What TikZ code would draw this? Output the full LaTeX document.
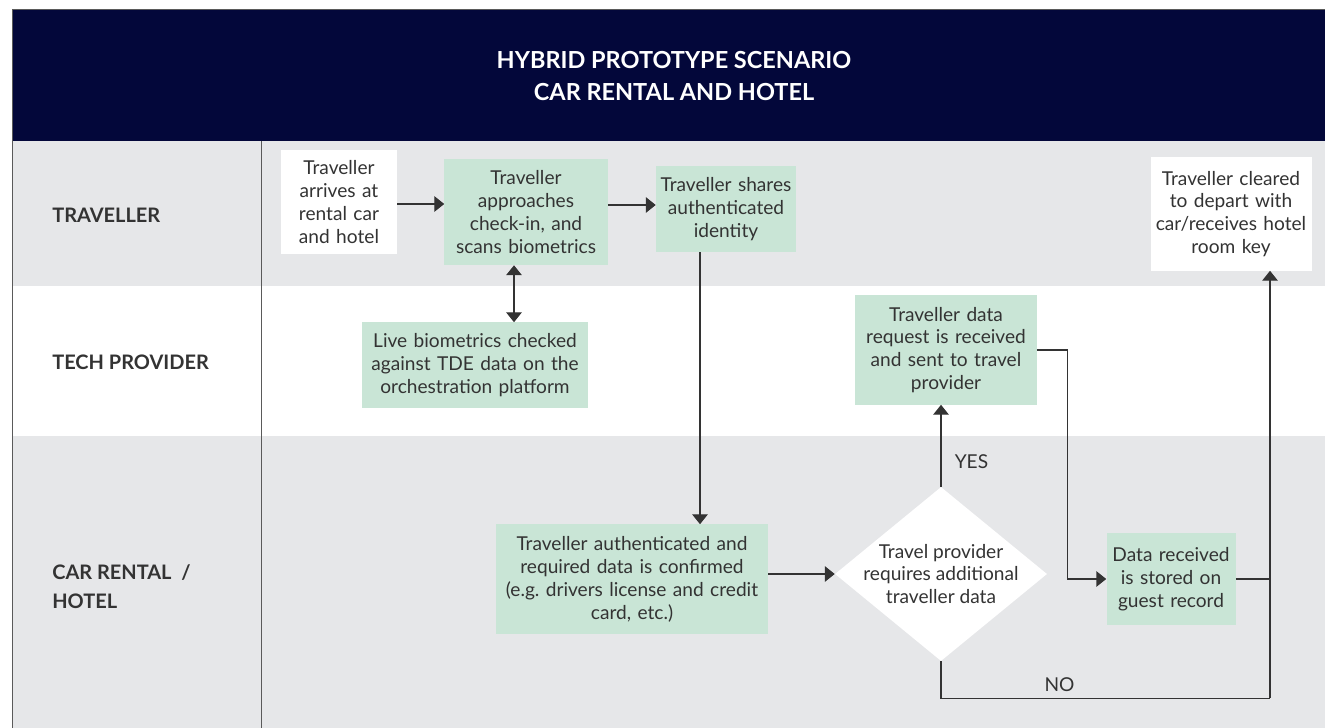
\documentclass[tikz,border=0pt]{standalone}
\usepackage{fontspec}
\setmainfont{Lato}
\usetikzlibrary{arrows.meta, shapes.geometric, calc}

\definecolor{navy}{RGB}{3,7,58}
\definecolor{lanegrey}{RGB}{230,231,233}
\definecolor{boxgreen}{RGB}{201,229,214}
\definecolor{ink}{RGB}{51,51,51}
\definecolor{rule}{RGB}{90,90,90}

\tikzset{
    stepbox/.style={inner sep=0pt, align=center},
    greenbox/.style={stepbox, fill=boxgreen},
    whitebox/.style={stepbox, fill=white},
    decision/.style={diamond, fill=white, inner sep=0pt, aspect=1.22, minimum width=5.3cm, minimum height=4.35cm},
    lanelabel/.style={anchor=west, inner sep=0pt, align=left, font=\fontsize{14.2}{20.5}\selectfont\bfseries},
    flow/.style={draw=ink, line width=0.9pt, -{Triangle[width=11pt,length=7pt]}},
    link/.style={draw=ink, line width=0.9pt}
}

\begin{document}
\begin{tikzpicture}[x=0.025cm, y=-0.025cm, font=\fontsize{13.6}{16.3}\selectfont, text=ink]
        \useasboundingbox (0,0) rectangle (1325,728);

        % lanes
        \fill[navy] (12,9) rectangle (1325,141);
        \fill[lanegrey] (12,141) rectangle (1325,286);
        \fill[lanegrey] (12,436) rectangle (1325,728);
        \draw[rule, line width=0.6pt] (1325,9) -- (12,9) -- (12,728);
        \draw[rule, line width=0.6pt] (261,141) -- (261,728);

        \node[align=center, text=white, font=\fontsize{16.7}{22.7}\selectfont\bfseries] (title) at (674,76) {HYBRID PROTOTYPE SCENARIO\\CAR RENTAL AND HOTEL};
        \node[lanelabel] (laneone) at (52,215) {TRAVELLER};
        \node[lanelabel] (lanetwo) at (52,362) {TECH PROVIDER};
        \node[lanelabel] (lanethree) at (52,587) {CAR RENTAL\ \ /\\HOTEL};

        % steps
        \node[whitebox, minimum width=2.9cm, minimum height=2.6cm, text width=2.9cm] (arrive) at (339,202) {Traveller\\arrives at\\rental car\\and hotel};
        \node[greenbox, minimum width=4.075cm, minimum height=2.65cm, text width=4.075cm] (approach) at (526,212) {Traveller\\approaches\\check-in, and\\scans biometrics};
        \node[greenbox, minimum width=3.5cm, minimum height=2.15cm, text width=3.5cm] (share) at (726,209) {Traveller shares\\authenticated\\identity};
        \node[whitebox, minimum width=4.025cm, minimum height=2.825cm, text width=4.025cm] (cleared) at (1231,214) {Traveller cleared\\to depart with\\car/receives hotel\\room key};
        \node[greenbox, minimum width=5.625cm, minimum height=2.125cm, text width=5.625cm] (live) at (475,365) {Live biometrics checked\\against TDE data on the\\orchestration platform};
        \node[greenbox, minimum width=4.525cm, minimum height=2.725cm, text width=4.525cm] (request) at (946,350) {Traveller data\\request is received\\and sent to travel\\provider};
        \node[greenbox, minimum width=6.8cm, minimum height=2.725cm, text width=6.8cm] (confirmed) at (632,579) {Traveller authenticated and\\required data is confirmed\\(e.g.\ drivers license and credit\\card, etc.)};
        \node[decision, label={[align=center, inner sep=0pt]center:Travel provider\\requires additional\\traveller data}] (decide) at (941,574) {};
        \node[greenbox, minimum width=3.225cm, minimum height=2.275cm, text width=3.225cm] (stored) at (1171,579) {Data received\\is stored on\\guest record};

        % connectors
        \coordinate (scan) at ($(approach.south)+(-12,0)$);
        \coordinate (down) at ($(share.south)+(-26,0)$);
        \coordinate (turn) at ($(request.east)+(31,0)$);
        \coordinate (up) at ($(cleared.south)+(39,0)$);

        \draw[flow] (arrive.east |- 0,204) -- (approach.west |- 0,204);
        \draw[flow] (approach.east |- 0,205) -- (share.west |- 0,205);
        \draw[flow, {Triangle[width=11pt,length=7pt]}-{Triangle[width=11pt,length=7pt]}] (scan) -- (scan |- live.north);
        \draw[flow] (down) -- (down |- confirmed.north);
        \draw[flow] (confirmed.east |- decide) -- (decide.west);
        \draw[flow] (decide.north) -- (decide.north |- request.south) node[pos=0.3, right=6pt] {YES};
        \draw[flow] (request.east) -- (turn) |- (stored.west);
        \draw[link] (stored.east) -- (stored.east -| up);
        \draw[link] (decide.south) -- ++(0,37) coordinate (nocorner) -- (nocorner -| up) node[pos=0.36, above=1pt] {NO};
        \draw[flow] (nocorner -| up) -- (up);
\end{tikzpicture}
\end{document}
